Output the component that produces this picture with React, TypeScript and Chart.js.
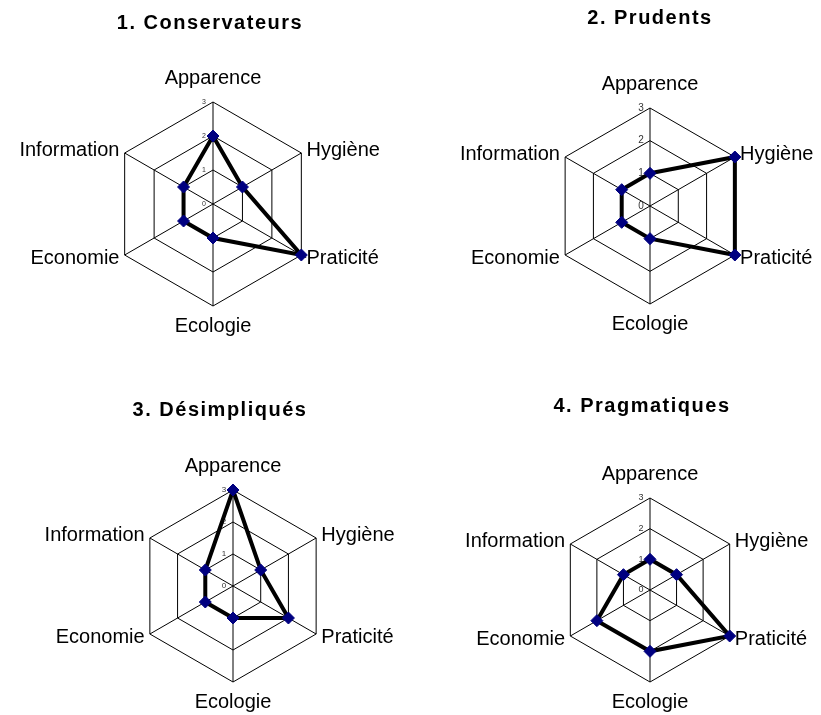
import React, { useEffect, useRef } from 'react';
import { Chart, registerables } from 'chart.js';

Chart.register(...registerables);

// ---- data ----
const axisLabels = ['Apparence', 'Hygiène', 'Praticité', 'Ecologie', 'Economie', 'Information'];
const chartTitles = ['1. Conservateurs', '2. Prudents', '3. Désimpliqués', '4. Pragmatiques'];
const conservateurs = [2, 1, 3, 1, 1, 1];
const prudents = [1, 3, 3, 1, 1, 1];
const desimpliques = [3, 1, 2, 1, 1, 1];
const pragmatiques = [1, 1, 3, 2, 2, 1];
const scaleMin = 0;
const scaleMax = 3;
const scaleStep = 1;

// ---- layout (canvas boxes) ----
const boxes = [
  { x: -4, y: 0, w: 428, h: 341, padTop: 11, padBottom: 29, tickSize: 7 },
  { x: 410, y: 0, w: 480, h: 339, padTop: 6.5, padBottom: 39.5, tickSize: 10 },
  { x: 29, y: 360, w: 382, h: 357, padTop: 38.5, padBottom: 29.5, tickSize: 8 },
  { x: 446, y: 360, w: 392, h: 357, padTop: 34.5, padBottom: 41.5, tickSize: 9 },
];

const FONT = '"Liberation Sans", Arial, Helvetica, sans-serif';
const labelPadding = [5.2, -0.8, -0.8, 1.2, -0.8, -0.8];
const TICK_SHIFT = 9;

function makeStylePlugin() {
  return {
    id: 'panelStyle',
    beforeDraw(chart: any) {
      const tb = chart.titleBlock;
      if (tb && !tb.__spaced) {
        const orig = tb.draw.bind(tb);
        tb.draw = (area: any) => {
          const c = chart.ctx as any;
          c.save();
          c.letterSpacing = '1.5px';
          orig(area);
          c.restore();
        };
        tb.__spaced = true;
      }
      const s = chart.scales && chart.scales.r;
      if (s && !s.__shifted) {
        const origLabels = s.drawLabels.bind(s);
        s.drawLabels = (area: any) => {
          const c = chart.ctx;
          c.save();
          c.translate(-TICK_SHIFT, 0);
          origLabels(area);
          c.restore();
        };
        s.__shifted = true;
      }
    },
  };
}

function RadarPanel({ title, values, box }: { title: string; values: number[]; box: any }) {
  const ref = useRef<HTMLCanvasElement | null>(null);
  useEffect(() => {
    if (!ref.current) return;
    const chart = new Chart(ref.current, {
      type: 'radar',
      data: {
        labels: axisLabels,
        datasets: [
          {
            data: values,
            borderColor: '#000000',
            borderWidth: 4,
            fill: false,
            tension: 0,
            pointStyle: 'rectRot',
            pointRadius: 6,
            pointBackgroundColor: '#000080',
            pointBorderColor: '#000080',
            pointBorderWidth: 1,
          },
        ],
      },
      options: {
        responsive: false,
        animation: false,
        layout: { padding: 0 },
        plugins: {
          legend: { display: false },
          tooltip: { enabled: false },
          title: {
            display: true,
            text: title,
            color: '#000000',
            font: { family: FONT, size: 20, weight: 'bold', lineHeight: 1.2 },
            padding: { top: box.padTop, bottom: box.padBottom },
          },
        },
        scales: {
          r: {
            min: scaleMin,
            max: scaleMax,
            beginAtZero: true,
            afterBuildTicks: (scale: any) => {
              scale.ticks = [{ value: scaleMin }, ...scale.ticks];
            },
            ticks: {
              stepSize: scaleStep,
              display: true,
              showLabelBackdrop: false,
              backdropPadding: (13.6 - box.tickSize) / 2,
              color: '#333333',
              font: { family: FONT, size: box.tickSize },
            },
            grid: { color: '#000000', lineWidth: 1, circular: false },
            angleLines: { display: true, color: '#000000', lineWidth: 1 },
            pointLabels: {
              display: true,
              color: '#000000',
              padding: (ctx: any) => labelPadding[ctx.index],
              font: (ctx: any) => ({
                family: FONT,
                size: 20,
                lineHeight: ctx.index === 0 || ctx.index === 3 ? 1.2 : 0,
              }),
            },
          },
        },
      } as any,
      plugins: [makeStylePlugin() as any],
    });
    return () => chart.destroy();
  }, [title, values, box]);

  return (
    <canvas
      ref={ref}
      width={box.w}
      height={box.h}
      style={{ position: 'absolute', left: box.x, top: box.y, width: box.w, height: box.h }}
    />
  );
}

export default function App() {
  const series = [conservateurs, prudents, desimpliques, pragmatiques];
  return (
    <div
      style={{
        position: 'absolute',
        left: 0,
        top: 0,
        width: 821,
        height: 715,
        overflow: 'hidden',
        background: '#ffffff',
      }}
    >
      {series.map((vals, i) => (
        <RadarPanel key={i} title={chartTitles[i]} values={vals} box={boxes[i]} />
      ))}
    </div>
  );
}
